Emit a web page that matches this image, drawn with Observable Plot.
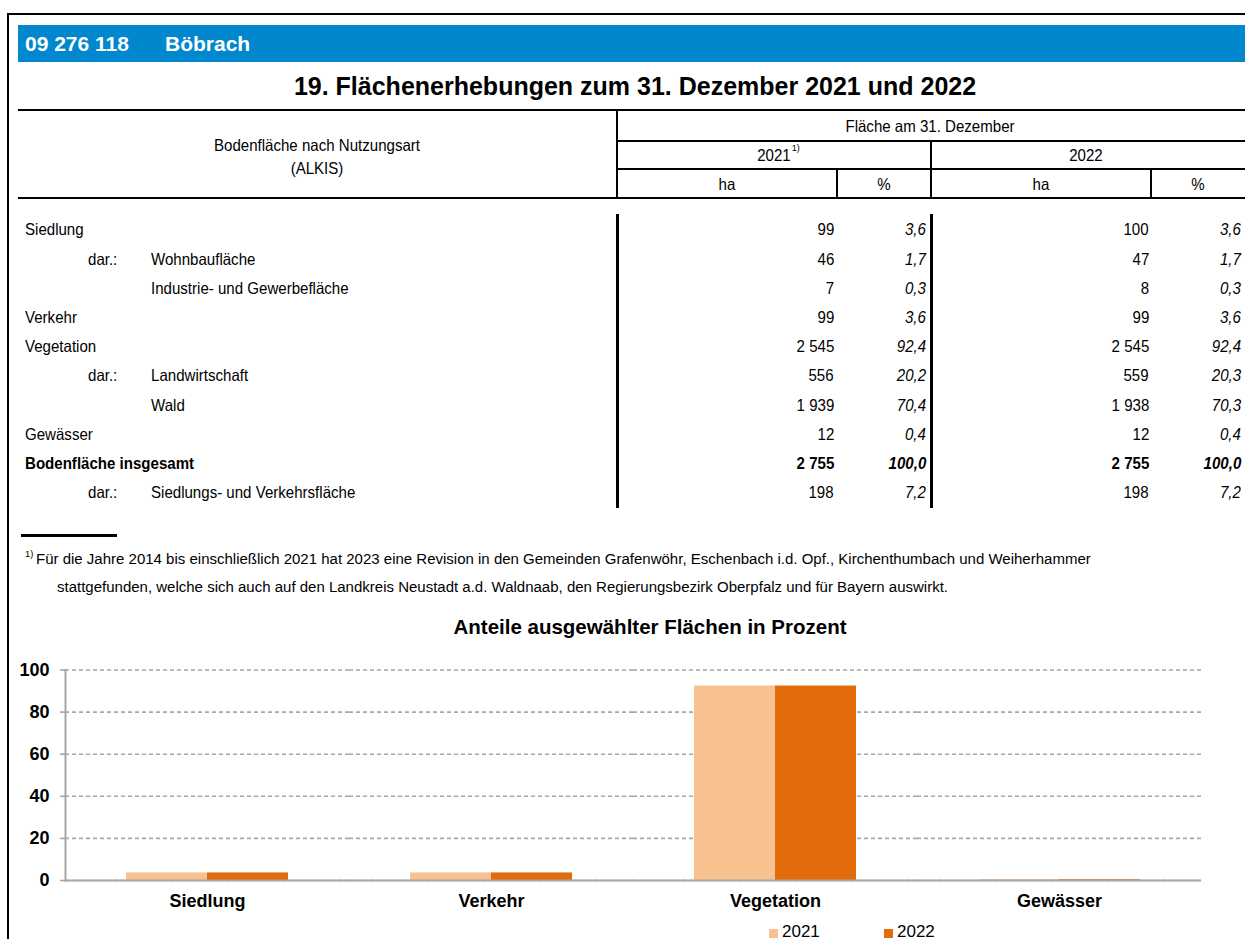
<!DOCTYPE html>
<html><head><meta charset="utf-8">
<script src="https://cdn.jsdelivr.net/npm/d3@7"></script>
<script src="https://cdn.jsdelivr.net/npm/@observablehq/plot@0.6"></script>
<style>
html,body{margin:0;padding:0;background:#fff;}
body{width:1245px;height:939px;overflow:hidden;position:relative;color:#000;}
.t{position:absolute;white-space:nowrap;}
.ln{position:absolute;background:#000;}
</style></head><body>
<script>
// ---------- data ----------
const municipalityCode = "09 276 118";
const municipalityName = "Böbrach";
const tableTitle = "19. Flächenerhebungen zum 31. Dezember 2021 und 2022";
const stubHeader = ["Bodenfläche nach Nutzungsart", "(ALKIS)"];
const spanHeader = "Fläche am 31. Dezember";
const yearHeaders = ["2021", "2022"];
const unitHeaders = ["ha", "%", "ha", "%"];
const rowLabels = ["Siedlung", "Wohnbaufläche", "Industrie- und Gewerbefläche", "Verkehr", "Vegetation",
  "Landwirtschaft", "Wald", "Gewässer", "Bodenfläche insgesamt", "Siedlungs- und Verkehrsfläche"];
const rowIndent = [0, 1, 1, 0, 0, 1, 1, 0, 0, 1];
const rowPrefix = ["", "dar.:", "", "", "", "dar.:", "", "", "", "dar.:"];
const rowBold = [false, false, false, false, false, false, false, false, true, false];
const ha2021 = ["99", "46", "7", "99", "2 545", "556", "1 939", "12", "2 755", "198"];
const pct2021 = ["3,6", "1,7", "0,3", "3,6", "92,4", "20,2", "70,4", "0,4", "100,0", "7,2"];
const ha2022 = ["100", "47", "8", "99", "2 545", "559", "1 938", "12", "2 755", "198"];
const pct2022 = ["3,6", "1,7", "0,3", "3,6", "92,4", "20,3", "70,3", "0,4", "100,0", "7,2"];
const footnoteMark = "1)";
const footnoteLines = [
  "Für die Jahre 2014 bis einschließlich 2021 hat 2023 eine Revision in den Gemeinden Grafenwöhr, Eschenbach i.d. Opf., Kirchenthumbach und Weiherhammer",
  "stattgefunden, welche sich auch auf den Landkreis Neustadt a.d. Waldnaab, den Regierungsbezirk Oberpfalz und für Bayern auswirkt."
];
const chartTitle = "Anteile ausgewählter Flächen in Prozent";
const categories = ["Siedlung", "Verkehr", "Vegetation", "Gewässer"];
const years = ["2021", "2022"];
const share2021 = [3.6, 3.6, 92.4, 0.4];
const share2022 = [3.6, 3.6, 92.4, 0.4];
const yTicks = [0, 20, 40, 60, 80, 100];
const yearColors = ["#F8C190", "#E36C0A"];

// ---------- helpers ----------
const body = document.body;
const SANS = '"Liberation Sans", Arial, Helvetica, sans-serif';
const ctx = document.createElement("canvas").getContext("2d");
function measure(str, font) { ctx.font = font; return ctx.measureText(str).width; }
// narrow (Arial-Narrow-like) look: tall glyphs, horizontally condensed
const tableSize = 16.5;
const tableSX = 206 / measure(stubHeader[0], `${tableSize}px ${SANS}`);
const footSize = 15.5;
const footSX = 891 / measure(footnoteLines[1], `${footSize}px ${SANS}`);

function text(str, x, cy, o = {}) {
  const size = o.size || tableSize;
  const sx = o.sx === undefined ? tableSX : o.sx;
  const d = document.createElement("div");
  d.className = "t";
  d.textContent = str;
  d.style.fontFamily = o.family || SANS;
  d.style.fontSize = size + "px";
  d.style.lineHeight = size + "px";
  d.style.fontWeight = o.weight || "normal";
  d.style.fontStyle = o.style || "normal";
  d.style.color = o.color || "#000";
  d.style.top = (cy - 0.49 * size) + "px";
  const align = o.align || "left";
  if (align === "left") { d.style.left = x + "px"; d.style.transformOrigin = "0 50%"; }
  else if (align === "right") { d.style.right = (1245 - x) + "px"; d.style.transformOrigin = "100% 50%"; }
  else { d.style.left = (x - 500) + "px"; d.style.width = "1000px"; d.style.textAlign = "center"; d.style.transformOrigin = "50% 50%"; }
  if (sx !== 1) d.style.transform = `scaleX(${sx})`;
  body.appendChild(d);
  return d;
}
function box(x, y, w, h, color = "#000") {
  const d = document.createElement("div");
  d.className = "ln";
  Object.assign(d.style, { left: x + "px", top: y + "px", width: w + "px", height: h + "px", background: color });
  body.appendChild(d);
}
const hline = (x1, x2, y, t = 2) => box(x1, y - t / 2, x2 - x1, t);
const vline = (x, y1, y2, t = 2) => box(x - t / 2, y1, t, y2 - y1);

// ---------- frame & header ----------
hline(7, 1245, 13.5, 2);
vline(7.5, 13, 939, 2);
box(18, 25, 1227, 37, "#0087CE");
text(municipalityCode, 25, 43.5, { weight: "bold", size: 21, sx: 1, color: "#fff" });
text(municipalityName, 165, 43.5, { weight: "bold", size: 21, sx: 1, color: "#fff" });
text(tableTitle, 635, 86, { weight: "bold", size: 25, sx: 1, align: "center" });

// ---------- table header ----------
hline(18, 1245, 110, 2.5);
hline(18, 1245, 198, 2.5);
vline(617, 110, 198, 2);
hline(617, 1245, 141, 2);
hline(617, 1245, 169, 2);
vline(931, 141, 198, 2);
vline(837, 169, 198, 2);
vline(1151, 169, 198, 2);
text(stubHeader[0], 317, 145, { align: "center" });
text(stubHeader[1], 317, 168, { align: "center" });
text(spanHeader, 930, 126, { align: "center" });
const y21 = text("", 774, 155, { align: "center" });
const inner = document.createElement("span");
inner.textContent = yearHeaders[0];
inner.style.position = "relative";
const sup = document.createElement("span");
sup.textContent = footnoteMark;
Object.assign(sup.style, { fontSize: "0.6em", position: "absolute", left: "100%", top: "-0.55em", marginLeft: "1px" });
inner.appendChild(sup);
y21.appendChild(inner);
text(yearHeaders[1], 1086, 155, { align: "center" });
const unitCenters = [727, 884, 1041, 1198];
unitHeaders.forEach((u, i) => text(u, unitCenters[i], 184, { align: "center" }));

// ---------- table body ----------
vline(617, 214, 508, 3);
vline(931, 214, 508, 3);
rowLabels.forEach((lab, i) => {
  const cy = 229.5 + 29.2 * i;
  const w = rowBold[i] ? "bold" : "normal";
  if (rowPrefix[i]) text(rowPrefix[i], 88, cy);
  text(lab, rowIndent[i] ? 151 : 25, cy, { weight: w });
  text(ha2021[i], 834, cy, { align: "right", weight: w });
  text(pct2021[i], 926, cy, { align: "right", weight: w, style: "italic" });
  text(ha2022[i], 1149, cy, { align: "right", weight: w });
  text(pct2022[i], 1241, cy, { align: "right", weight: w, style: "italic" });
});

// ---------- footnote ----------
hline(21, 117, 535, 3);
const fm = text(footnoteMark, 25, 554, { size: footSize * 0.62, sx: footSX });
text(footnoteLines[0], 25 + fm.getBoundingClientRect().width + 3, 559, { size: footSize, sx: footSX });
text(footnoteLines[1], 57, 587, { size: footSize, sx: footSX });

// ---------- chart ----------
text(chartTitle, 650, 627, { weight: "bold", size: 20.5, sx: 1, align: "center" });

const bars = categories.flatMap((c, i) => [
  { cat: c, year: years[0], value: share2021[i] },
  { cat: c, year: years[1], value: share2022[i] }
]);

const chart = Plot.plot({
  width: 1245,
  height: 329,
  marginLeft: 64,
  marginRight: 44,
  marginTop: 59.5,
  marginBottom: 59,
  style: { fontFamily: SANS, background: "transparent", color: "#000", overflow: "visible" },
  fx: { domain: categories, padding: 0, label: null },
  x: { domain: years, axis: null, paddingInner: 0, paddingOuter: 0.753 },
  y: { domain: [0, 100], label: null },
  color: { domain: years, range: yearColors },
  marks: [
    Plot.gridY(yTicks, { stroke: "#a8a8a8", strokeOpacity: 1, strokeWidth: 1.6, strokeDasharray: "4 3" }),
    Plot.barY(bars, { fx: "cat", x: "year", y: "value", fill: "year", inset: 0 }),
    Plot.ruleY([0], { stroke: "#a6a6a6", strokeWidth: 2.2 }),
    Plot.frame({ anchor: "left", stroke: "#a6a6a6", strokeWidth: 2, facetAnchor: "left" }),
    Plot.axisY(yTicks, { tickSize: 5, tickPadding: 11, stroke: "#a6a6a6", strokeWidth: 1.6, fill: "#000", fontSize: 18, fontWeight: "bold", label: null }),
    Plot.axisFx({ anchor: "bottom", tickSize: 0, tickPadding: 14, fontSize: 18, fontWeight: "bold", fill: "#000", label: null })
  ]
});
chart.style.position = "absolute";
chart.style.left = "0px";
chart.style.top = "610px";
body.appendChild(chart);

// ---------- legend ----------
const legendX = [769, 884];
years.forEach((y, i) => {
  box(legendX[i], 928.5, 9, 9, yearColors[i]);
  text(y, legendX[i] + 13, 931, { size: 17, sx: 1 });
});
</script>
</body></html>
